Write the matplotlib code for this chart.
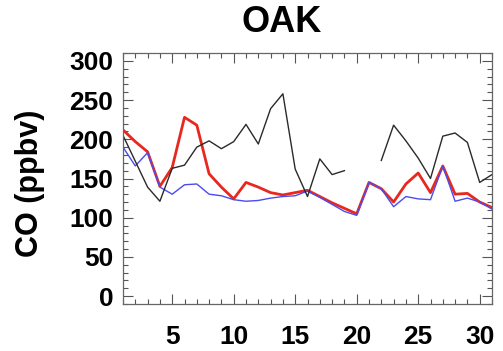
import numpy as np
import matplotlib
matplotlib.use('Agg')
import matplotlib.pyplot as plt
from matplotlib.ticker import MultipleLocator

plt.rcParams['font.family'] = ['Liberation Sans', 'DejaVu Sans']
plt.rcParams['font.weight'] = 'bold'

# daily CO mixing ratios for the month (ppbv)
days = np.arange(1, 32)
obs = [205, 172, 139, 121, 163, 167, 190, 198, 188, 197, 219, 194, 239, 258, 162,
       127, 175, 155, 160, np.nan, np.nan, 173, 218, 198, 176, 150, 204, 208, 196, 145, 155]
model_a = [212, 197, 184, 140, 164, 228, 218, 156, 139, 124, 145, 139, 132, 129, 132,
           135, 127, 119, 112, 105, 145, 137, 120, 143, 157, 132, 166, 130, 131, 120, 113]
model_b = [190, 166, 183, 139, 130, 142, 143, 130, 128, 123, 121, 122, 125, 127, 128,
           134, 126, 117, 108, 103, 145, 137, 114, 127, 124, 123, 166, 121, 125, 120, 111]

fig = plt.figure(figsize=(5.03, 3.51), dpi=100)
ax = fig.add_axes([123 / 503, 1 - 304 / 351, (492 - 123) / 503, (304 - 53) / 351])

ax.plot(days, model_a, color='#e8281e', lw=2.0)
ax.plot(days, model_b, color='#4a4cf0', lw=1.0)
ax.plot(days, obs, color='#2a2a2a', lw=1.0)

ax.set_xlim(1, 31)
ax.set_ylim(-10, 310)
ax.xaxis.set_major_locator(MultipleLocator(5))
ax.xaxis.set_minor_locator(MultipleLocator(1))
ax.yaxis.set_major_locator(MultipleLocator(50))
ax.yaxis.set_minor_locator(MultipleLocator(10))
ax.tick_params(which='both', direction='in', top=True, right=True, color='#555555', width=0.8)
ax.tick_params(which='major', length=7)
ax.tick_params(which='minor', length=3.5)
ax.tick_params(axis='x', labelsize=19, pad=15)
ax.tick_params(axis='y', labelsize=19, pad=7)
for s in ax.spines.values():
    s.set_color('#666666')
    s.set_linewidth(0.9)

fig.text(30 / 503, 1 - 183 / 351, 'CO (ppbv)', rotation=90, ha='center', va='center',
         fontsize=22, fontweight='bold')
fig.text(282 / 503, 1 - 23 / 351, 'OAK', ha='center', va='center', fontsize=26, fontweight='bold')

fig.savefig('out.png', dpi=100)
